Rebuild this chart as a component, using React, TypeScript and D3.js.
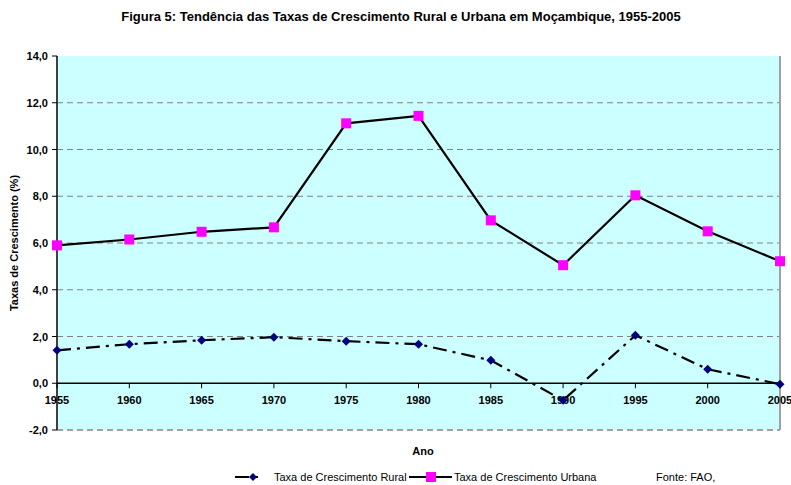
import React from "react";
import * as d3 from "d3";

const years = [1955, 1960, 1965, 1970, 1975, 1980, 1985, 1990, 1995, 2000, 2005];
const urbana = [5.9, 6.15, 6.48, 6.67, 11.12, 11.44, 6.97, 5.05, 8.04, 6.5, 5.22];
const rural = [1.41, 1.67, 1.84, 1.97, 1.8, 1.67, 0.98, -0.73, 2.05, 0.6, -0.04];
const yTicks = [-2, 0, 2, 4, 6, 8, 10, 12, 14];
const gridVals = [2, 4, 6, 8, 10, 12];

const W = 791, H = 485;
const left = 57, right = 780, top = 56, bottom = 430;
const FONT = "Arial, 'Liberation Sans', sans-serif";

export default function App() {
  const x = d3.scaleLinear().domain([1955, 2005]).range([left, right]);
  const y = d3.scaleLinear().domain([-2, 14]).range([bottom, top]);
  const line = d3.line<number>().x((_, i) => x(years[i])).y((d) => y(d));
  const fmt = (v: number) => v.toFixed(1).replace(".", ",");
  const diamond = (cx: number, cy: number, r = 4.5) =>
    `M${cx},${cy - r}L${cx + r},${cy}L${cx},${cy + r}L${cx - r},${cy}Z`;

  return (
    <svg width={W} height={H} style={{ display: "block", position: "absolute", left: 0, top: 0 }} fontFamily={FONT}>
      <rect x={0} y={0} width={W} height={H} fill="#fff" />
      <text x={401} y={21} textAnchor="middle" fontSize={13} fontWeight="bold">
        Figura 5: Tendência das Taxas de Crescimento Rural e Urbana em Moçambique, 1955-2005
      </text>
      <rect x={left} y={top} width={right - left} height={bottom - top} fill="#CCFFFF" />
      {gridVals.map((v) => (
        <line key={v} x1={left} x2={right} y1={y(v)} y2={y(v)} stroke="#808080" strokeDasharray="6,4" strokeWidth={1} />
      ))}
      <line x1={left} x2={right} y1={bottom} y2={bottom} stroke="#a0a0a0" strokeWidth={2} strokeDasharray="6,4" />
      <line x1={right} x2={right} y1={top} y2={bottom} stroke="#a0a0a0" strokeWidth={2} />
      <line x1={left} x2={left} y1={top} y2={bottom} stroke="#404040" strokeWidth={2} />
      {yTicks.map((v) => (
        <g key={v}>
          <line x1={left - 5} x2={left} y1={y(v)} y2={y(v)} stroke="#000" />
          <text x={left - 9} y={y(v) + 4} textAnchor="end" fontSize={11} fontWeight="bold">{fmt(v)}</text>
        </g>
      ))}
      <line x1={left} x2={right} y1={y(0)} y2={y(0)} stroke="#000" strokeWidth={1.5} />
      {years.map((yr) => (
        <g key={yr}>
          <line x1={x(yr)} x2={x(yr)} y1={y(0)} y2={y(0) + 5} stroke="#000" />
          <text x={x(yr)} y={y(0) + 21} textAnchor="middle" fontSize={11} fontWeight="bold">{yr}</text>
        </g>
      ))}
      <path d={line(rural) || ""} fill="none" stroke="#000" strokeWidth={2.2} strokeDasharray="14,6,3,6" />
      <path d={line(urbana) || ""} fill="none" stroke="#000" strokeWidth={2.2} />
      {rural.map((v, i) => (
        <path key={i} d={diamond(x(years[i]), y(v))} fill="#000080" />
      ))}
      {urbana.map((v, i) => (
        <rect key={i} x={x(years[i]) - 5} y={y(v) - 5} width={10} height={10} fill="#FF00FF" />
      ))}
      <text transform={`translate(18,243) rotate(-90)`} textAnchor="middle" fontSize={11} fontWeight="bold">
        Taxas de Crescimento (%)
      </text>
      <text x={423} y={455} textAnchor="middle" fontSize={11} fontWeight="bold">Ano</text>
      <g>
        <line x1={235} x2={262} y1={477} y2={477} stroke="#000" strokeWidth={2.2} strokeDasharray="14,6,3,6" />
        <path d={diamond(253, 477, 4)} fill="#000080" />
        <text x={274} y={481} fontSize={11}>Taxa de Crescimento Rural</text>
        <line x1={409} x2={452} y1={477} y2={477} stroke="#000" strokeWidth={2.2} />
        <rect x={426} y={472} width={10} height={10} fill="#FF00FF" />
        <text x={454} y={481} fontSize={11}>Taxa de Crescimento Urbana</text>
        <text x={656} y={481} fontSize={11}>Fonte: FAO,</text>
      </g>
    </svg>
  );
}
